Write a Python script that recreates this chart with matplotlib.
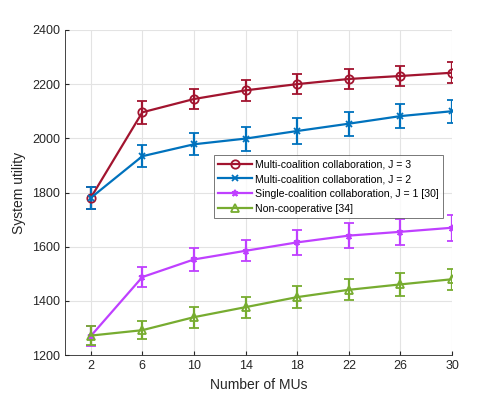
import matplotlib.pyplot as plt
from matplotlib.lines import Line2D

plt.rcParams['font.family'] = ['Liberation Sans', 'DejaVu Sans']

# Données
num_mus = [2, 6, 10, 14, 18, 22, 26, 30]

multi_j3 = [1780, 2096, 2145, 2177, 2200, 2219, 2230, 2242]
multi_j3_err = [42, 42, 37, 39, 37, 38, 37, 38]

multi_j2 = [1780, 1934, 1978, 1999, 2027, 2054, 2082, 2100]
multi_j2_err = [42, 40, 40, 44, 47, 44, 44, 43]

single_j1 = [1270, 1488, 1553, 1585, 1616, 1641, 1655, 1670]
single_j1_err = [36, 37, 41, 38, 45, 45, 47, 48]

non_coop = [1272, 1292, 1340, 1377, 1414, 1441, 1461, 1480]
non_coop_err = [36, 33, 39, 39, 40, 39, 42, 38]

labels = ['Multi-coalition collaboration, J = 3',
          'Multi-coalition collaboration, J = 2',
          'Single-coalition collaboration, J = 1 [30]',
          'Non-cooperative [34]']

fig = plt.figure(figsize=(4.99, 3.99), dpi=100)
ax = fig.add_axes([0.130, 0.110, 0.776, 0.815])

series = [
    (multi_j3, multi_j3_err, '#A2142F', 'o', 6),
    (multi_j2, multi_j2_err, '#0072BD', 'x', 4),
    (single_j1, single_j1_err, '#BF40FF', '*', 5),
    (non_coop, non_coop_err, '#77AC30', '^', 6),
]

handles = []
for (vals, errs, cor, marc, ms), lab in zip(series, labels):
    ax.errorbar(num_mus, vals, yerr=errs, color=cor, marker=marc, markersize=ms,
                markerfacecolor='none', markeredgewidth=1.3, linewidth=1.6,
                elinewidth=1.6, capsize=3.5, capthick=1.6)
    handles.append(Line2D([], [], color=cor, marker=marc, markersize=ms,
                          markerfacecolor='none', markeredgewidth=1.3,
                          linewidth=1.6, label=lab))

ax.set_xlim(0, 30)
ax.set_ylim(1200, 2400)
ax.set_xticks(num_mus)
ax.set_yticks(range(1200, 2401, 200))
ax.grid(True, color='#e3e3e3', linewidth=0.8)
ax.set_axisbelow(True)
for lado in ['top', 'right']:
    ax.spines[lado].set_visible(False)
for lado in ['left', 'bottom']:
    ax.spines[lado].set_color('#262626')
    ax.spines[lado].set_linewidth(0.6)
ax.tick_params(direction='in', length=3, labelsize=9, colors='#262626')

ax.set_xlabel('Number of MUs', fontsize=10, color='#262626')
ax.set_ylabel('System utility', fontsize=10, color='#262626')

leg = ax.legend(handles=handles, loc='upper left', bbox_to_anchor=(0.385, 0.615),
                fontsize=7.6, frameon=True, fancybox=False, edgecolor='#555555',
                borderpad=0.4, labelspacing=0.45, handlelength=3.2,
                handletextpad=0.3, borderaxespad=0)
leg.get_frame().set_linewidth(0.7)

plt.savefig('out.png', dpi=100)
